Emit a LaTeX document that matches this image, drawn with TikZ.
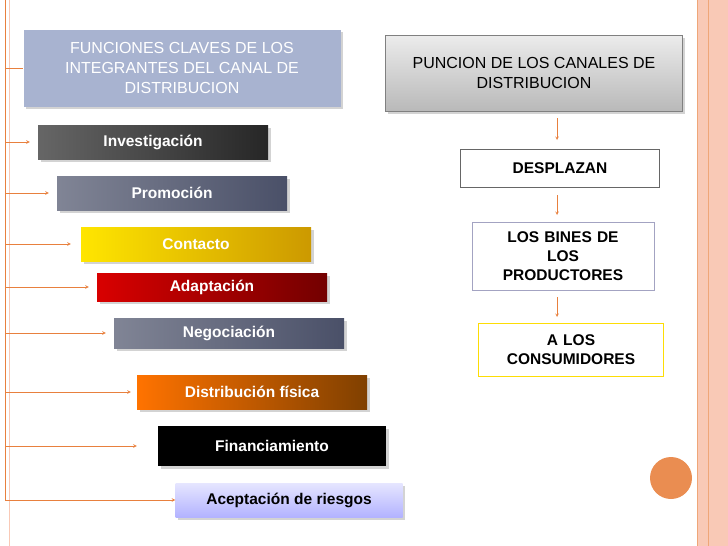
\documentclass[tikz,border=0pt]{standalone}
\usepackage{fontspec}
\setmainfont{Liberation Sans}
\usetikzlibrary{shadows}

\definecolor{hdrblue}{HTML}{A8B3D0}
\definecolor{linkor}{HTML}{E8803E}
\definecolor{stripe}{HTML}{F9C9B6}
\definecolor{slate}{HTML}{4A5068}

\tikzset{
    func/.style={minimum width=230pt, minimum height=34pt, text=white,
        font=\bfseries\fontsize{15.5}{18}\selectfont, drop shadow={opacity=.35}},
    canal/.style={draw, fill=white, text width=170pt, align=center,
        font=\bfseries\fontsize{15.5}{19}\selectfont},
    link/.style={linkor, semithick, ->, >=stealth},
}

\begin{document}
\begin{tikzpicture}[x=1pt, y=-1pt]
    \useasboundingbox (0,0) rectangle (728,546);

    % page borders
    \fill[stripe] (697,0) rectangle (728,546);
    \draw[linkor!70] (697,0) -- (697,546);
    \draw[linkor!70] (708,0) -- (708,546);
    \draw[stripe, thick] (9,0) -- (9,546);
    \fill[linkor!90] (671,478) circle (21);

    % headers
    \node[fill=hdrblue, text=white, minimum width=317pt, minimum height=77pt,
        align=center, font=\fontsize{16}{20}\selectfont, drop shadow={opacity=.35}]
        (claves) at (182,68) {FUNCIONES CLAVES DE LOS\\INTEGRANTES DEL CANAL DE\\DISTRIBUCION};
    \node[draw=gray, top color=gray!15, bottom color=gray!55, minimum width=297pt,
        minimum height=76pt, align=center, font=\fontsize{16}{20}\selectfont,
        drop shadow={opacity=.35}]
        (funcion) at (534,73) {PUNCION DE LOS CANALES DE\\DISTRIBUCION};

    % functions
    \node[func, left color=black!60, right color=black!85] (invest) at (153,142) {Investigación};
    \node[func, left color=slate!70, right color=slate] (promo) at (172,193) {Promoción};
    \node[func, left color=yellow!80!orange, right color=yellow!50!orange!80!black] (contacto) at (196,244) {Contacto};
    \node[func, left color=red!85!black, right color=red!45!black, minimum height=28pt] (adapt) at (212,287) {Adaptación};
    \node[func, left color=slate!70, right color=slate, minimum height=30pt] (nego) at (229,333) {Negociación};
    \node[func, left color=orange!90!red, right color=orange!50!black] (distri) at (252,392) {Distribución física};
    \node[func, fill=black, minimum width=228pt, minimum height=40pt] (finan) at (272,446) {Financiamiento};
    \node[func, text=black, top color=blue!10, bottom color=blue!30, minimum width=227pt] (riesgo) at (289,500) {Aceptación de riesgos};

    % connectors
    \coordinate (top) at (5,0);
    \coordinate (bot) at (5,500);
    \draw[linkor, semithick] (top) -- (bot);
    \draw[linkor, semithick] (top |- claves.west) -- (claves.west);
    \foreach \n/\g in {invest/8, promo/8, contacto/10, adapt/8, nego/8, distri/6, finan/21, riesgo/0}
        \draw[link] (top |- \n.west) -- ([xshift=-\g pt]\n.west);

    % channel
    \node[canal, draw=gray!80!black, minimum width=199pt, minimum height=38pt] (despl) at (560,168) {DESPLAZAN};
    \node[canal, draw=blue!20!gray!60, text width=170pt, minimum width=182pt, minimum height=68pt] (bines) at (563,256) {LOS BINES DE\\LOS\\PRODUCTORES};
    \node[canal, draw=yellow!80!orange, text width=175pt, minimum width=185pt, minimum height=53pt] (consum) at (571,350) {A LOS\\CONSUMIDORES};
    \draw[link] (557,118) -- (557,140);
    \draw[link] (557,195) -- (557,215);
    \draw[link] (557,297) -- (557,317);
\end{tikzpicture}
\end{document}
